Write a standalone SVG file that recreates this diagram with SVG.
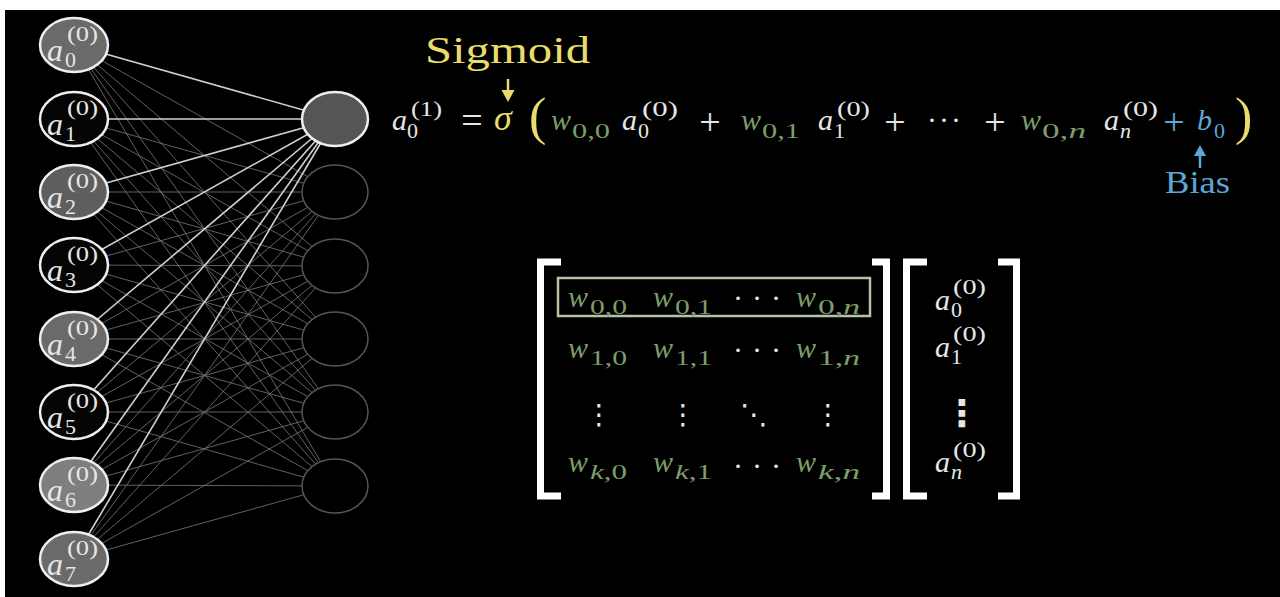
<svg xmlns="http://www.w3.org/2000/svg" width="1280" height="597" viewBox="0 0 1280 597">
<defs>
<style>
.m{font-family:'Liberation Serif','DejaVu Serif',serif}
.it{font-style:italic}
.b{font-size:30px}
.s{font-size:22px}
.op{font-size:38px}
.wh{fill:#e6e6e6}
.gr{fill:#7d9d6a}
.yl{fill:#e8dc6a}
.bl{fill:#5ca6d6}
.hi{stroke:#d0d0d0;stroke-width:1.6}
.lo{stroke:#808080;stroke-width:0.9;stroke-opacity:0.85}
.ln{stroke:#eeeeee;stroke-width:2.5}
.rn{fill:#000;stroke:#555555;stroke-width:1.5}
.br{fill:none;stroke:#ffffff;stroke-width:7;stroke-linejoin:miter}
.dt{font-family:'DejaVu Sans',sans-serif;fill:#e6e6e6}
</style>
</defs>
<rect x="0" y="0" width="1280" height="597" fill="#ffffff"/>
<rect x="5" y="10" width="1275" height="587" fill="#000000"/>

<g id="connectors">
<line class="lo" x1="74" y1="45" x2="335" y2="192"/><line class="lo" x1="74" y1="45" x2="335" y2="266"/><line class="lo" x1="74" y1="45" x2="335" y2="339"/><line class="lo" x1="74" y1="45" x2="335" y2="412"/><line class="lo" x1="74" y1="45" x2="335" y2="486"/>
<line class="lo" x1="74" y1="119" x2="335" y2="192"/><line class="lo" x1="74" y1="119" x2="335" y2="266"/><line class="lo" x1="74" y1="119" x2="335" y2="339"/><line class="lo" x1="74" y1="119" x2="335" y2="412"/><line class="lo" x1="74" y1="119" x2="335" y2="486"/>
<line class="lo" x1="74" y1="192" x2="335" y2="192"/><line class="lo" x1="74" y1="192" x2="335" y2="266"/><line class="lo" x1="74" y1="192" x2="335" y2="339"/><line class="lo" x1="74" y1="192" x2="335" y2="412"/><line class="lo" x1="74" y1="192" x2="335" y2="486"/>
<line class="lo" x1="74" y1="265" x2="335" y2="192"/><line class="lo" x1="74" y1="265" x2="335" y2="266"/><line class="lo" x1="74" y1="265" x2="335" y2="339"/><line class="lo" x1="74" y1="265" x2="335" y2="412"/><line class="lo" x1="74" y1="265" x2="335" y2="486"/>
<line class="lo" x1="74" y1="339" x2="335" y2="192"/><line class="lo" x1="74" y1="339" x2="335" y2="266"/><line class="lo" x1="74" y1="339" x2="335" y2="339"/><line class="lo" x1="74" y1="339" x2="335" y2="412"/><line class="lo" x1="74" y1="339" x2="335" y2="486"/>
<line class="lo" x1="74" y1="412" x2="335" y2="192"/><line class="lo" x1="74" y1="412" x2="335" y2="266"/><line class="lo" x1="74" y1="412" x2="335" y2="339"/><line class="lo" x1="74" y1="412" x2="335" y2="412"/><line class="lo" x1="74" y1="412" x2="335" y2="486"/>
<line class="lo" x1="74" y1="485" x2="335" y2="192"/><line class="lo" x1="74" y1="485" x2="335" y2="266"/><line class="lo" x1="74" y1="485" x2="335" y2="339"/><line class="lo" x1="74" y1="485" x2="335" y2="412"/><line class="lo" x1="74" y1="485" x2="335" y2="486"/>
<line class="lo" x1="74" y1="559" x2="335" y2="192"/><line class="lo" x1="74" y1="559" x2="335" y2="266"/><line class="lo" x1="74" y1="559" x2="335" y2="339"/><line class="lo" x1="74" y1="559" x2="335" y2="412"/><line class="lo" x1="74" y1="559" x2="335" y2="486"/>
<line class="hi" x1="74" y1="45" x2="335" y2="119"/><line class="hi" x1="74" y1="119" x2="335" y2="119"/><line class="hi" x1="74" y1="192" x2="335" y2="119"/><line class="hi" x1="74" y1="265" x2="335" y2="119"/><line class="hi" x1="74" y1="339" x2="335" y2="119"/><line class="hi" x1="74" y1="412" x2="335" y2="119"/><line class="hi" x1="74" y1="485" x2="335" y2="119"/><line class="hi" x1="74" y1="559" x2="335" y2="119"/>
</g>

<g id="in0"><ellipse class="ln" cx="74" cy="45" rx="34" ry="27" fill="#6a6a6a"/><text class="m wh"><tspan class="it" font-size="32" x="47" y="61">a</tspan><tspan class="s" x="65" y="67">0</tspan><tspan class="s" x="67" y="41" textLength="31" lengthAdjust="spacingAndGlyphs">(0)</tspan></text></g>
<g id="in1"><ellipse class="ln" cx="74" cy="119" rx="34" ry="27" fill="#050505"/><text class="m wh"><tspan class="it" font-size="32" x="47" y="135">a</tspan><tspan class="s" x="65" y="141">1</tspan><tspan class="s" x="67" y="115" textLength="31" lengthAdjust="spacingAndGlyphs">(0)</tspan></text></g>
<g id="in2"><ellipse class="ln" cx="74" cy="192" rx="34" ry="27" fill="#5e5e5e"/><text class="m wh"><tspan class="it" font-size="32" x="47" y="208">a</tspan><tspan class="s" x="65" y="214">2</tspan><tspan class="s" x="67" y="188" textLength="31" lengthAdjust="spacingAndGlyphs">(0)</tspan></text></g>
<g id="in3"><ellipse class="ln" cx="74" cy="265" rx="34" ry="27" fill="#050505"/><text class="m wh"><tspan class="it" font-size="32" x="47" y="281">a</tspan><tspan class="s" x="65" y="287">3</tspan><tspan class="s" x="67" y="261" textLength="31" lengthAdjust="spacingAndGlyphs">(0)</tspan></text></g>
<g id="in4"><ellipse class="ln" cx="74" cy="339" rx="34" ry="27" fill="#6a6a6a"/><text class="m wh"><tspan class="it" font-size="32" x="47" y="355">a</tspan><tspan class="s" x="65" y="361">4</tspan><tspan class="s" x="67" y="335" textLength="31" lengthAdjust="spacingAndGlyphs">(0)</tspan></text></g>
<g id="in5"><ellipse class="ln" cx="74" cy="412" rx="34" ry="27" fill="#050505"/><text class="m wh"><tspan class="it" font-size="32" x="47" y="428">a</tspan><tspan class="s" x="65" y="434">5</tspan><tspan class="s" x="67" y="408" textLength="31" lengthAdjust="spacingAndGlyphs">(0)</tspan></text></g>
<g id="in6"><ellipse class="ln" cx="74" cy="485" rx="34" ry="27" fill="#7e7e7e"/><text class="m wh"><tspan class="it" font-size="32" x="47" y="501">a</tspan><tspan class="s" x="65" y="507">6</tspan><tspan class="s" x="67" y="481" textLength="31" lengthAdjust="spacingAndGlyphs">(0)</tspan></text></g>
<g id="in7"><ellipse class="ln" cx="74" cy="559" rx="34" ry="27" fill="#6a6a6a"/><text class="m wh"><tspan class="it" font-size="32" x="47" y="575">a</tspan><tspan class="s" x="65" y="581">7</tspan><tspan class="s" x="67" y="555" textLength="31" lengthAdjust="spacingAndGlyphs">(0)</tspan></text></g>

<g id="out0"><ellipse cx="335" cy="119" rx="33" ry="27" fill="#555555" stroke="#eeeeee" stroke-width="2.5"/></g>
<g id="out1"><ellipse class="rn" cx="335" cy="192" rx="33" ry="27"/></g>
<g id="out2"><ellipse class="rn" cx="335" cy="266" rx="33" ry="27"/></g>
<g id="out3"><ellipse class="rn" cx="335" cy="339" rx="33" ry="27"/></g>
<g id="out4"><ellipse class="rn" cx="335" cy="412" rx="33" ry="27"/></g>
<g id="out5"><ellipse class="rn" cx="335" cy="486" rx="33" ry="27"/></g>

<g id="sigmoid-label">
<text class="m yl" x="425" y="63" font-size="38" textLength="165" lengthAdjust="spacingAndGlyphs">Sigmoid</text>
<line x1="508" y1="79" x2="508" y2="92" stroke="#e8dc6a" stroke-width="2.5"/>
<polygon points="501.5,90 514.5,90 508,102" fill="#e8dc6a"/>
</g>

<g id="equation">
<text class="m wh"><tspan class="it b" x="392" y="130">a</tspan><tspan class="s" x="407" y="138">0</tspan><tspan class="s" x="411" y="116" textLength="31" lengthAdjust="spacingAndGlyphs">(1)</tspan></text>
<text class="m op wh" x="472" y="133" text-anchor="middle">=</text>
<text class="m it yl" font-size="36" x="494" y="130">σ</text>
<text class="m yl" x="529" y="134" font-size="52">(</text>
<text class="m gr"><tspan class="it b" x="551" y="130">w</tspan><tspan class="s" x="572" y="138" textLength="38" lengthAdjust="spacingAndGlyphs">0,0</tspan></text>
<text class="m wh"><tspan class="it b" x="622" y="130">a</tspan><tspan class="s" x="638" y="138">0</tspan><tspan class="s" x="642" y="116" textLength="36" lengthAdjust="spacingAndGlyphs">(0)</tspan></text>
<text class="m op wh" x="710" y="135" text-anchor="middle">+</text>
<text class="m gr"><tspan class="it b" x="741" y="130">w</tspan><tspan class="s" x="762" y="138" textLength="38" lengthAdjust="spacingAndGlyphs">0,1</tspan></text>
<text class="m wh"><tspan class="it b" x="818" y="130">a</tspan><tspan class="s" x="834" y="138">1</tspan><tspan class="s" x="837" y="116" textLength="33" lengthAdjust="spacingAndGlyphs">(0)</tspan></text>
<text class="m op wh" x="895" y="135" text-anchor="middle">+</text>
<text class="m b wh" x="927" y="130" letter-spacing="2">···</text>
<text class="m op wh" x="995" y="135" text-anchor="middle">+</text>
<text class="m gr"><tspan class="it b" x="1021" y="130">w</tspan><tspan class="s" x="1042" y="138" textLength="44" lengthAdjust="spacingAndGlyphs">0,<tspan class="it">n</tspan></tspan></text>
<text class="m wh"><tspan class="it b" x="1104" y="130">a</tspan><tspan class="s it" x="1120" y="138">n</tspan><tspan class="s" x="1123" y="116" textLength="35" lengthAdjust="spacingAndGlyphs">(0)</tspan></text>
<text class="m op bl" x="1174" y="135" text-anchor="middle">+</text>
<text class="m bl"><tspan class="it b" x="1197" y="130">b</tspan><tspan class="s" x="1214" y="138">0</tspan></text>
<text class="m yl" x="1235" y="134" font-size="52">)</text>
</g>

<g id="bias-label">
<line x1="1200" y1="168" x2="1200" y2="154" stroke="#5ca6d6" stroke-width="2.5"/>
<polygon points="1194,156 1206,156 1200,145" fill="#5ca6d6"/>
<text class="m bl" x="1165" y="193" font-size="31" textLength="65" lengthAdjust="spacingAndGlyphs">Bias</text>
</g>

<g id="weight-matrix">
<path class="br" d="M561,262 H540.5 V496 H561"/>
<path class="br" d="M872,262 H886.5 V496 H872"/>
<rect x="558" y="278" width="312" height="38" fill="none" stroke="#b5c4a5" stroke-width="2.5"/>
<text class="m gr"><tspan class="it b" x="568" y="307">w</tspan><tspan class="s" x="590" y="314" textLength="37" lengthAdjust="spacingAndGlyphs">0,0</tspan></text>
<text class="m gr"><tspan class="it b" x="653" y="307">w</tspan><tspan class="s" x="675" y="314" textLength="37" lengthAdjust="spacingAndGlyphs">0,1</tspan></text>
<text class="m b wh" x="733" y="308" letter-spacing="9">···</text>
<text class="m gr"><tspan class="it b" x="796" y="307">w</tspan><tspan class="s" x="818" y="314" textLength="42" lengthAdjust="spacingAndGlyphs">0,<tspan class="it">n</tspan></tspan></text>
<text class="m gr"><tspan class="it b" x="568" y="358">w</tspan><tspan class="s" x="590" y="365" textLength="37" lengthAdjust="spacingAndGlyphs">1,0</tspan></text>
<text class="m gr"><tspan class="it b" x="653" y="358">w</tspan><tspan class="s" x="675" y="365" textLength="37" lengthAdjust="spacingAndGlyphs">1,1</tspan></text>
<text class="m b wh" x="733" y="360" letter-spacing="9">···</text>
<text class="m gr"><tspan class="it b" x="796" y="358">w</tspan><tspan class="s" x="818" y="365" textLength="42" lengthAdjust="spacingAndGlyphs">1,<tspan class="it">n</tspan></tspan></text>
<text class="dt" x="599" y="424" font-size="28" text-anchor="middle">⋮</text>
<text class="dt" x="683" y="424" font-size="28" text-anchor="middle">⋮</text>
<text class="dt" x="754" y="424" font-size="28" text-anchor="middle">⋱</text>
<text class="dt" x="828" y="424" font-size="28" text-anchor="middle">⋮</text>
<text class="m gr"><tspan class="it b" x="568" y="472">w</tspan><tspan class="s" x="590" y="479" textLength="37" lengthAdjust="spacingAndGlyphs"><tspan class="it">k</tspan>,0</tspan></text>
<text class="m gr"><tspan class="it b" x="653" y="472">w</tspan><tspan class="s" x="675" y="479" textLength="37" lengthAdjust="spacingAndGlyphs"><tspan class="it">k</tspan>,1</tspan></text>
<text class="m b wh" x="733" y="476" letter-spacing="9">···</text>
<text class="m gr"><tspan class="it b" x="796" y="472">w</tspan><tspan class="s" x="818" y="479" textLength="42" lengthAdjust="spacingAndGlyphs"><tspan class="it">k</tspan>,<tspan class="it">n</tspan></tspan></text>
</g>

<g id="activation-vector">
<path class="br" d="M927,262 H906.5 V496 H927"/>
<path class="br" d="M998,262 H1016.5 V496 H998"/>
<text class="m wh"><tspan class="it b" x="935" y="310">a</tspan><tspan class="s" x="951" y="317">0</tspan><tspan class="s" x="953" y="294" textLength="33" lengthAdjust="spacingAndGlyphs">(0)</tspan></text>
<text class="m wh"><tspan class="it b" x="935" y="357">a</tspan><tspan class="s" x="951" y="364">1</tspan><tspan class="s" x="953" y="341" textLength="33" lengthAdjust="spacingAndGlyphs">(0)</tspan></text>
<text class="dt" x="962" y="426" font-size="37" font-weight="bold" text-anchor="middle">⋮</text>
<text class="m wh"><tspan class="it b" x="935" y="472">a</tspan><tspan class="s it" x="951" y="479">n</tspan><tspan class="s" x="953" y="457" textLength="33" lengthAdjust="spacingAndGlyphs">(0)</tspan></text>
</g>
</svg>
